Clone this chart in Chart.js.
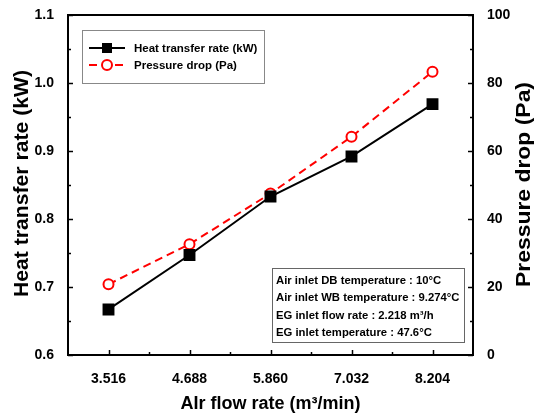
<!DOCTYPE html>
<html>
<head>
<meta charset="utf-8">
<script src="https://cdn.jsdelivr.net/npm/chart.js@4"></script>
<style>
  html, body { margin: 0; padding: 0; background: #fff; }
  #wrap { width: 542px; height: 419px; }
</style>
</head>
<body>
<div id="wrap"><canvas id="chart" width="542" height="419"></canvas></div>
<script>
// ================================
// DATA
// ================================
const airFlow = ["3.516", "4.688", "5.860", "7.032", "8.204"];
const heatRate = [0.667, 0.747, 0.833, 0.892, 0.969];
const pressureDrop = [20.8, 32.6, 47.5, 64.2, 83.3];

const heatRange = [0.6, 1.1];
const pressureRange = [0, 100];

const noteLines = [
    "Air inlet DB temperature : 10°C",
    "Air inlet WB temperature : 9.274°C",
    "EG inlet flow rate : 2.218 m³/h",
    "EG inlet temperature : 47.6°C"
];

const FONT = "'Liberation Sans', Arial, sans-serif";

// rotated title, stretched along its length to fit the given span
function drawVerticalTitle(ctx, text, baseX, centerY, length) {
    ctx.save();
    ctx.translate(baseX, centerY);
    ctx.rotate(-Math.PI / 2);
    const w = ctx.measureText(text).width;
    ctx.scale(length / w, 1);
    ctx.textAlign = "center";
    ctx.textBaseline = "alphabetic";
    ctx.fillText(text, 0, 0);
    ctx.restore();
}

// ================================
// FRAME, INWARD TICKS, TITLES, LEGEND, NOTE
// ================================
const decorPlugin = {
    id: "decor",
    afterDraw(chart) {
        const ctx = chart.ctx;
        const a = chart.chartArea;
        const x = chart.scales.x, yl = chart.scales.y, yr = chart.scales.y2;

        ctx.save();
        ctx.strokeStyle = "#000";
        ctx.lineWidth = 1.5;

        // left axis ticks (major 0.1, minor 0.05)
        for (let i = 0; i <= 10; i++) {
            const v = heatRange[0] + i * 0.05;
            const py = Math.round(yl.getPixelForValue(v)) + 0.5;
            const len = i % 2 === 0 ? 5 : 3;
            ctx.beginPath(); ctx.moveTo(a.left, py); ctx.lineTo(a.left + len, py); ctx.stroke();
        }
        // right axis ticks (major 20, minor 10)
        for (let v = 0; v <= 100; v += 10) {
            const py = Math.round(yr.getPixelForValue(v)) + 0.5;
            const len = v % 20 === 0 ? 5 : 3;
            ctx.beginPath(); ctx.moveTo(a.right, py); ctx.lineTo(a.right - len, py); ctx.stroke();
        }
        // x ticks at categories and between them
        for (let i = 0; i < airFlow.length; i++) {
            const px = Math.round(x.getPixelForValue(i)) + 0.5;
            ctx.beginPath(); ctx.moveTo(px, a.bottom); ctx.lineTo(px, a.bottom - 5); ctx.stroke();
            if (i < airFlow.length - 1) {
                const mx = Math.round((x.getPixelForValue(i) + x.getPixelForValue(i + 1)) / 2) + 0.5;
                ctx.beginPath(); ctx.moveTo(mx, a.bottom); ctx.lineTo(mx, a.bottom - 3); ctx.stroke();
            }
        }

        // plot frame
        ctx.lineWidth = 2;
        ctx.strokeRect(a.left, a.top, a.right - a.left, a.bottom - a.top);

        // axis titles
        ctx.fillStyle = "#000";
        ctx.font = "bold 21px " + FONT;
        drawVerticalTitle(ctx, "Heat transfer rate (kW)", 28, 183.5, 227);
        drawVerticalTitle(ctx, "Pressure drop (Pa)", 530, 184.5, 205);
        ctx.font = "bold 18px " + FONT;
        ctx.textAlign = "center";
        ctx.textBaseline = "middle";
        ctx.fillText("AIr flow rate (m³/min)", (a.left + a.right) / 2, 404);

        // legend
        const lx = 82, ly = 30, lw = 182, lh = 53;
        ctx.strokeStyle = "#888";
        ctx.lineWidth = 1;
        ctx.strokeRect(lx + 0.5, ly + 0.5, lw, lh);
        ctx.font = "bold 11.5px " + FONT;
        ctx.textAlign = "left";
        chart.data.datasets.forEach((ds, i) => {
            const ry = ly + 18 + i * 17;
            ctx.strokeStyle = ds.borderColor;
            ctx.lineWidth = 2;
            ctx.setLineDash(ds.borderDash || []);
            ctx.beginPath(); ctx.moveTo(89, ry); ctx.lineTo(125, ry); ctx.stroke();
            ctx.setLineDash([]);
            if (ds.pointStyle === "rect") {
                ctx.fillStyle = ds.pointBackgroundColor;
                ctx.fillRect(102, ry - 5, 10, 10);
            } else {
                ctx.fillStyle = "#fff";
                ctx.beginPath(); ctx.arc(107, ry, 5, 0, Math.PI * 2); ctx.fill(); ctx.stroke();
            }
            ctx.fillStyle = "#000";
            ctx.fillText(ds.label, 134, ry + 1);
        });

        // condition note
        const nx = 272, ny = 268, nw = 192, nh = 74;
        ctx.strokeStyle = "#666";
        ctx.lineWidth = 1;
        ctx.fillStyle = "#fff";
        ctx.fillRect(nx, ny, nw, nh);
        ctx.strokeRect(nx + 0.5, ny + 0.5, nw, nh);
        ctx.fillStyle = "#000";
        ctx.font = "bold 11.3px " + FONT;
        noteLines.forEach((t, i) => ctx.fillText(t, 276, ny + 13 + i * 17.3));

        ctx.restore();
    }
};

// ================================
// CHART
// ================================
const tickFont = { family: FONT, size: 14, weight: "bold" };

new Chart(document.getElementById("chart"), {
    type: "line",
    data: {
        labels: airFlow,
        datasets: [{
            label: "Heat transfer rate (kW)",
            data: heatRate,
            yAxisID: "y",
            borderColor: "#000",
            borderWidth: 2,
            pointStyle: "rect",
            pointRadius: 7,
            pointBackgroundColor: "#000",
            pointBorderColor: "#000",
            tension: 0
        }, {
            label: "Pressure drop (Pa)",
            data: pressureDrop,
            yAxisID: "y2",
            borderColor: "#f00",
            borderWidth: 2,
            borderDash: [8, 5],
            pointStyle: "circle",
            pointRadius: 5,
            pointBorderWidth: 2,
            pointBackgroundColor: "#fff",
            pointBorderColor: "#f00",
            tension: 0
        }]
    },
    options: {
        responsive: false,
        animation: false,
        layout: { padding: { top: 15, left: 0, right: 0, bottom: 0 } },
        plugins: { legend: { display: false }, tooltip: { enabled: false } },
        scales: {
            x: {
                offset: true,
                grid: { display: false },
                border: { display: false },
                ticks: { color: "#000", font: tickFont, padding: 8, maxRotation: 0 },
                afterFit: s => { s.height = 64; }
            },
            y: {
                position: "left",
                min: heatRange[0], max: heatRange[1],
                grid: { display: false },
                border: { display: false },
                ticks: { stepSize: 0.1, color: "#000", font: tickFont, padding: 6,
                         callback: v => v.toFixed(1) },
                afterFit: s => { s.width = 68; }
            },
            y2: {
                position: "right",
                min: pressureRange[0], max: pressureRange[1],
                grid: { display: false },
                border: { display: false },
                ticks: { stepSize: 20, color: "#000", font: tickFont, padding: 6 },
                afterFit: s => { s.width = 69; }
            }
        }
    },
    plugins: [decorPlugin]
});
</script>
</body>
</html>
